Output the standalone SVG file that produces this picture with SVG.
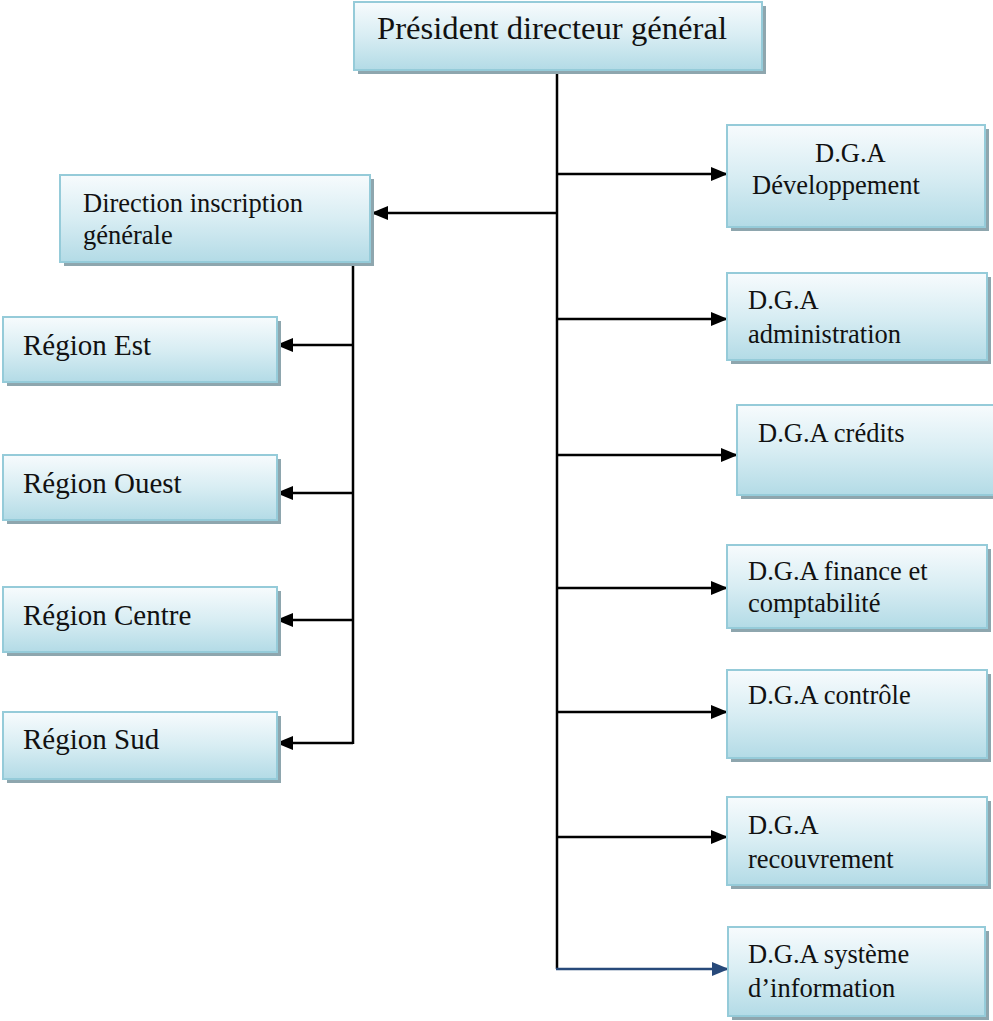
<svg xmlns="http://www.w3.org/2000/svg" width="993" height="1021" viewBox="0 0 993 1021">
  <defs>
    <linearGradient id="boxFill" x1="0" y1="0" x2="0" y2="1">
      <stop offset="0" stop-color="#f7fbfd"/>
      <stop offset="0.5" stop-color="#d8edf3"/>
      <stop offset="1" stop-color="#b3dbe6"/>
    </linearGradient>
    <marker id="arrow" markerUnits="userSpaceOnUse" markerWidth="17" markerHeight="14" refX="16" refY="7" orient="auto">
      <path d="M0,0 L17,7 L0,14 z" fill="#000"/>
    </marker>
    <marker id="arrowBlue" markerUnits="userSpaceOnUse" markerWidth="17" markerHeight="14" refX="16" refY="7" orient="auto">
      <path d="M0,0 L17,7 L0,14 z" fill="#27497a"/>
    </marker>
  </defs>
  <style>
    .shadow { fill: #8ea6ae; }
    .box { fill: url(#boxFill); stroke: #95cbd9; stroke-width: 2; }
    .t { font-family: "Liberation Serif", "Times New Roman", serif; fill: #111; }
    .dga { font-size: 26.5px; }
    .reg { font-size: 29px; }
    .title { font-size: 31px; }
    .link { fill: none; stroke: #000; stroke-width: 2.5; }
    .link-blue { fill: none; stroke: #27497a; stroke-width: 2.5; }
  </style>

  <!-- connectors -->
  <g id="connectors">
    <path class="link" d="M557,70 V969"/>
    <path class="link" d="M557,213 H372" marker-end="url(#arrow)"/>
    <path class="link" d="M557,174 H727" marker-end="url(#arrow)"/>
    <path class="link" d="M557,319 H727" marker-end="url(#arrow)"/>
    <path class="link" d="M557,455 H737" marker-end="url(#arrow)"/>
    <path class="link" d="M557,588 H727" marker-end="url(#arrow)"/>
    <path class="link" d="M557,712 H727" marker-end="url(#arrow)"/>
    <path class="link" d="M557,837 H727" marker-end="url(#arrow)"/>
    <path class="link-blue" d="M556,969 H728" marker-end="url(#arrowBlue)"/>
    <path class="link" d="M353,262 V744"/>
    <path class="link" d="M353,345 H277" marker-end="url(#arrow)"/>
    <path class="link" d="M353,493 H277" marker-end="url(#arrow)"/>
    <path class="link" d="M353,620 H277" marker-end="url(#arrow)"/>
    <path class="link" d="M353,743 H277" marker-end="url(#arrow)"/>
  </g>

  <g id="pdg">
    <rect class="shadow" x="358" y="6" width="408" height="68"/>
    <rect class="box" x="354" y="2" width="408" height="68"/>
    <text class="t title" x="377" y="39" textLength="350" lengthAdjust="spacingAndGlyphs">Président directeur général</text>
  </g>

  <g id="direction-inscription">
    <rect class="shadow" x="64" y="179" width="310" height="87"/>
    <rect class="box" x="60" y="175" width="310" height="87"/>
    <text class="t dga" x="83" y="212">Direction inscription</text>
    <text class="t dga" x="83" y="244">générale</text>
  </g>

  <g id="region-est">
    <rect class="shadow" x="7" y="321" width="274" height="65"/>
    <rect class="box" x="3" y="317" width="274" height="65"/>
    <text class="t reg" x="23" y="355">Région Est</text>
  </g>

  <g id="region-ouest">
    <rect class="shadow" x="7" y="459" width="274" height="65"/>
    <rect class="box" x="3" y="455" width="274" height="65"/>
    <text class="t reg" x="23" y="493">Région Ouest</text>
  </g>

  <g id="region-centre">
    <rect class="shadow" x="7" y="591" width="274" height="65"/>
    <rect class="box" x="3" y="587" width="274" height="65"/>
    <text class="t reg" x="23" y="625">Région Centre</text>
  </g>

  <g id="region-sud">
    <rect class="shadow" x="7" y="716" width="274" height="67"/>
    <rect class="box" x="3" y="712" width="274" height="67"/>
    <text class="t reg" x="23" y="749">Région Sud</text>
  </g>

  <g id="dga-developpement">
    <rect class="shadow" x="731" y="129" width="258" height="102"/>
    <rect class="box" x="727" y="125" width="258" height="102"/>
    <text class="t dga" x="815" y="162">D.G.A</text>
    <text class="t dga" x="752" y="194">Développement</text>
  </g>

  <g id="dga-administration">
    <rect class="shadow" x="731" y="277" width="260" height="87"/>
    <rect class="box" x="727" y="273" width="260" height="87"/>
    <text class="t dga" x="748" y="309">D.G.A</text>
    <text class="t dga" x="748" y="343">administration</text>
  </g>

  <g id="dga-credits">
    <rect class="shadow" x="741" y="409" width="260" height="90"/>
    <rect class="box" x="737" y="405" width="260" height="90"/>
    <text class="t dga" x="758" y="442">D.G.A crédits</text>
  </g>

  <g id="dga-finance">
    <rect class="shadow" x="731" y="549" width="260" height="83"/>
    <rect class="box" x="727" y="545" width="260" height="83"/>
    <text class="t dga" x="748" y="580">D.G.A finance et</text>
    <text class="t dga" x="748" y="612">comptabilité</text>
  </g>

  <g id="dga-controle">
    <rect class="shadow" x="731" y="674" width="260" height="88"/>
    <rect class="box" x="727" y="670" width="260" height="88"/>
    <text class="t dga" x="748" y="704">D.G.A contrôle</text>
  </g>

  <g id="dga-recouvrement">
    <rect class="shadow" x="731" y="801" width="260" height="88"/>
    <rect class="box" x="727" y="797" width="260" height="88"/>
    <text class="t dga" x="748" y="834">D.G.A</text>
    <text class="t dga" x="748" y="868">recouvrement</text>
  </g>

  <g id="dga-systeme">
    <rect class="shadow" x="732" y="931" width="257" height="89"/>
    <rect class="box" x="728" y="927" width="257" height="89"/>
    <text class="t dga" x="748" y="963">D.G.A système</text>
    <text class="t dga" x="748" y="997">d’information</text>
  </g>
</svg>
